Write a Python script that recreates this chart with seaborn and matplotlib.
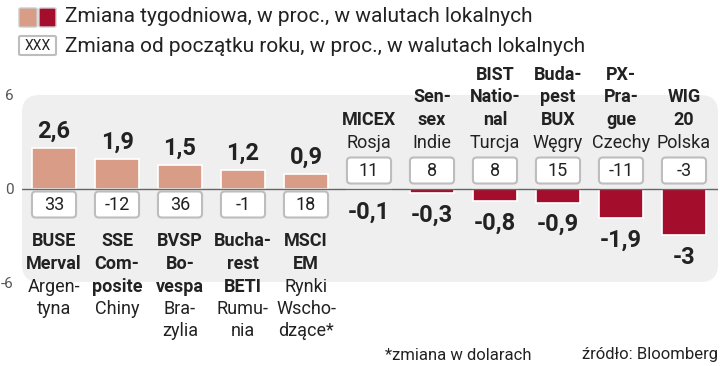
import pandas as pd
import matplotlib.pyplot as plt
import seaborn as sns
from matplotlib.patches import FancyBboxPatch

# dane: zmiana tygodniowa i od początku roku (w proc.)
indices = ["BUSE\nMerval", "SSE\nCom-\nposite", "BVSP\nBo-\nvespa", "Bucha-\nrest\nBETI",
           "MSCI\nEM", "MICEX", "Sen-\nsex", "BIST\nNatio-\nnal", "Buda-\npest\nBUX",
           "PX-\nPra-\ngue", "WIG\n20"]
countries = ["Argen-\ntyna", "Chiny", "Bra-\nzylia", "Rumu-\nnia", "Rynki\nWscho-\ndzące*",
             "Rosja", "Indie", "Turcja", "Węgry", "Czechy", "Polska"]
weekly = [2.6, 1.9, 1.5, 1.2, 0.9, -0.1, -0.3, -0.8, -0.9, -1.9, -3]
ytd = [33, -12, 36, -1, 18, 11, 8, 8, 15, -11, -3]

POS = "#d99c87"
NEG = "#a50d2d"
PANEL = "#efefef"
TXT = "#222222"

sns.set_style("white")
plt.rcParams['font.family'] = ['Roboto', 'DejaVu Sans']

df = pd.DataFrame({'country': countries, 'weekly': weekly, 'ytd': ytd})
df['sign'] = ['pos' if v > 0 else 'neg' for v in weekly]

W, H = 720, 366
fig = plt.figure(figsize=(7.2, 3.66), dpi=100)
ax = fig.add_axes([22 / W, 1 - 282 / H, 696 / W, 187 / H])
ax.patch.set_visible(False)

# szare tło z zaokrąglonymi rogami
ax.add_patch(FancyBboxPatch((0, 0), 1, 1, boxstyle="round,pad=0,rounding_size=0.025",
                            mutation_aspect=696 / 187, transform=ax.transAxes,
                            facecolor=PANEL, edgecolor='none', zorder=0))

sns.barplot(data=df, x='country', y='weekly', hue='sign', palette={'pos': POS, 'neg': NEG},
            dodge=False, legend=False, width=0.7, saturation=1, edgecolor='white',
            linewidth=1.2, ax=ax, zorder=2)

ax.axhline(0, color='#666666', lw=1, zorder=3)
ax.set_xlim(-0.508, 10.54)
ax.set_ylim(-6, 6)
ax.set_yticks([-6, 0, 6])
ax.set_yticklabels(['-6', '0', '6'], fontsize=11, color='#555555')
ax.tick_params(axis='y', length=0, pad=6)
ax.set_xticks([])
ax.set_xlabel('')
ax.set_ylabel('')
for s in ax.spines.values():
    s.set_visible(False)

px_y = 187 / 12  # pikseli na jednostkę
for i, (name, ctry, v, y) in enumerate(zip(indices, countries, weekly, ytd)):
    label = f"{v:g}".replace('.', ',')
    # wartość tygodniowa
    off = 17 if v > 0 else -22
    ax.annotate(label, (i, v), xytext=(0, off), textcoords='offset pixels',
                ha='center', va='center', fontsize=17, fontweight='bold', color=TXT,
                annotation_clip=False)
    # ramka ze zmianą od początku roku
    bh = 26 / px_y
    bc = -16 / px_y if v > 0 else 18 / px_y
    ax.add_patch(FancyBboxPatch((i - 0.35, bc - bh / 2), 0.7, bh,
                                boxstyle="round,pad=0,rounding_size=0.06",
                                mutation_aspect=63 / px_y, facecolor='white',
                                edgecolor='#bdbdbd', lw=1.5, zorder=4))
    ax.text(i, bc, str(y), ha='center', va='center', fontsize=13, color=TXT, zorder=5)
    # nazwy indeksów i krajów
    lines = [(l, 'bold') for l in name.split('\n')] + [(l, 'normal') for l in ctry.split('\n')]
    if v > 0:
        offs = [-53 - 22.5 * k for k in range(len(lines))]
    else:
        offs = [46 + 22.5 * (len(lines) - 1 - k) for k in range(len(lines))]
    for (txt, wt), o in zip(lines, offs):
        ax.annotate(txt, (i, 0), xytext=(0, o), textcoords='offset pixels',
                    ha='center', va='center', fontsize=13, fontweight=wt, color=TXT,
                    annotation_clip=False)

# legenda
def fx(x):
    return x / W

def fy(y):
    return 1 - y / H

fig.add_artist(FancyBboxPatch((fx(19), fy(27)), 18 / W, 19 / H,
                              boxstyle="round,pad=0,rounding_size=0.003",
                              transform=fig.transFigure, facecolor=POS,
                              edgecolor='#cccccc', lw=1))
fig.add_artist(FancyBboxPatch((fx(39), fy(27)), 17 / W, 19 / H,
                              boxstyle="round,pad=0,rounding_size=0.003",
                              transform=fig.transFigure, facecolor=NEG,
                              edgecolor='#cccccc', lw=1))
fig.add_artist(FancyBboxPatch((fx(19), fy(55)), 37 / W, 19 / H,
                              boxstyle="round,pad=0,rounding_size=0.003",
                              transform=fig.transFigure, facecolor='white',
                              edgecolor='#bdbdbd', lw=1.5))
fig.text(fx(37.5), fy(46), "XXX", ha='center', va='center', fontsize=10, color=TXT)
fig.text(fx(65), fy(17), "Zmiana tygodniowa, w proc., w walutach lokalnych",
         ha='left', va='center', fontsize=15, color=TXT)
fig.text(fx(65), fy(46), "Zmiana od początku roku, w proc., w walutach lokalnych",
         ha='left', va='center', fontsize=15, color=TXT)

# stopka
fig.text(fx(385), fy(355), "*zmiana w dolarach", ha='left', va='center',
         fontsize=12, color=TXT)
fig.text(fx(718), fy(355), "źródło: Bloomberg", ha='right', va='center',
         fontsize=12, color=TXT)

fig.savefig('out.png', dpi=100, facecolor='white')
